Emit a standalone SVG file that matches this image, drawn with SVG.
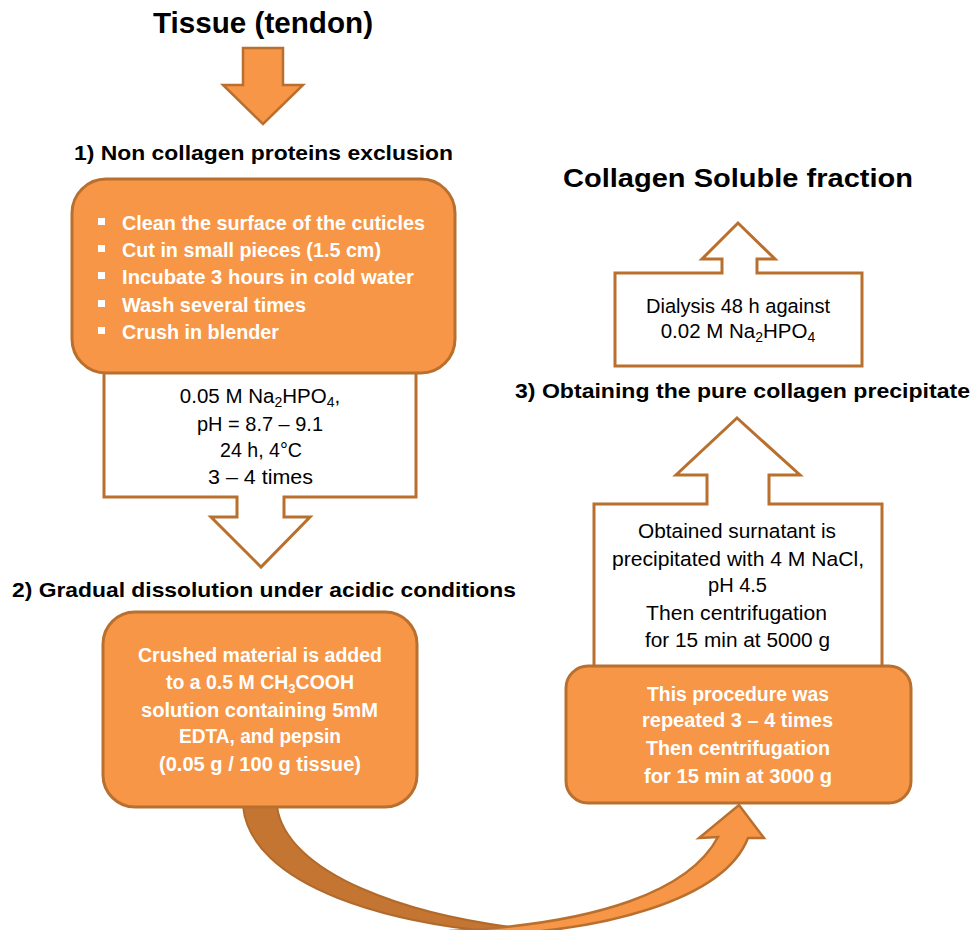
<svg xmlns="http://www.w3.org/2000/svg" width="974" height="930" viewBox="0 0 974 930">
<style>
.box{fill:#F79646;stroke:#B9702F;stroke-width:3}
.callout{fill:#FFFFFF;stroke:#B9702F;stroke-width:3;stroke-linejoin:miter}
.arrow{fill:#F79646;stroke:#B9702F;stroke-width:2.5;stroke-linejoin:miter}
.arrowdark{fill:#C57532;stroke:#B06A2C;stroke-width:2}
text{font-family:"Liberation Sans",Arial,sans-serif}
.head{font-weight:bold;fill:#000000}
.body{font-size:20.5px;fill:#000000;text-anchor:middle}
.wb{font-weight:bold;fill:#FFFFFF;font-size:19.5px}
.wb1{font-size:20.5px}
.wbc{text-anchor:middle}
.bul{fill:#FFFFFF}
</style>
<rect x="0" y="0" width="974" height="930" fill="#FFFFFF"/>

<g id="connectors">
  <polygon class="arrow" points="243,48 283,48 283,85 303,85 263,124 223,85 243,85"/>
  <path class="arrowdark" d="M243,806 C250,882 380,932 570,936 L570,933 C400,921 285,870 277,806 Z"/>
  <path class="arrow" d="M450,931 C600,924 690,890 718,837 L699,838 L739,805 L764,838 L748,838 C725,897 610,935 450,936 Z"/>
</g>

<g id="title-tissue">
  <text class="head" x="263" y="33" font-size="30" text-anchor="middle" textLength="220" lengthAdjust="spacingAndGlyphs">Tissue (tendon)</text>
</g>

<g id="step1-label">
  <text class="head" x="263.5" y="160" font-size="20.5" text-anchor="middle" textLength="379" lengthAdjust="spacingAndGlyphs">1) Non collagen proteins exclusion</text>
</g>

<g id="callout1">
  <polygon class="callout" points="104,340 416,340 416,497 284,497 284,517 310,517 261,567 211,517 237,517 237,497 104,497"/>
  <text class="body" x="260" y="403">0.05 M Na<tspan font-size="14" dy="4">2</tspan><tspan dy="-4">HPO</tspan><tspan font-size="14" dy="4">4</tspan><tspan dy="-4">,</tspan></text>
  <text class="body" x="260" y="431" textLength="126" lengthAdjust="spacingAndGlyphs">pH = 8.7 – 9.1</text>
  <text class="body" x="261" y="457" textLength="82" lengthAdjust="spacingAndGlyphs">24 h, 4°C</text>
  <text class="body" x="260.5" y="484" textLength="105" lengthAdjust="spacingAndGlyphs">3 – 4  times</text>
</g>

<g id="box1">
  <rect class="box" x="72" y="179" width="383" height="194" rx="34" ry="34"/>
  <rect class="bul" x="98" y="218" width="7" height="7"/>
  <rect class="bul" x="98" y="245" width="7" height="7"/>
  <rect class="bul" x="98" y="272" width="7" height="7"/>
  <rect class="bul" x="98" y="300" width="7" height="7"/>
  <rect class="bul" x="98" y="327" width="7" height="7"/>
  <text class="wb wb1" x="122" y="230" textLength="303" lengthAdjust="spacingAndGlyphs">Clean the surface of the cuticles</text>
  <text class="wb wb1" x="122" y="257" textLength="259" lengthAdjust="spacingAndGlyphs">Cut in small pieces (1.5 cm)</text>
  <text class="wb wb1" x="122" y="284" textLength="292" lengthAdjust="spacingAndGlyphs">Incubate 3 hours in cold water</text>
  <text class="wb wb1" x="122" y="312" textLength="184" lengthAdjust="spacingAndGlyphs">Wash several times</text>
  <text class="wb wb1" x="122" y="339" textLength="157" lengthAdjust="spacingAndGlyphs">Crush in blender</text>
</g>

<g id="step2-label">
  <text class="head" x="264" y="597" font-size="20.5" text-anchor="middle" textLength="504" lengthAdjust="spacingAndGlyphs">2) Gradual dissolution under acidic conditions</text>
</g>

<g id="box2">
  <rect class="box" x="103" y="612" width="314" height="195" rx="32" ry="32"/>
  <text class="wb wbc" x="260" y="662" textLength="244" lengthAdjust="spacingAndGlyphs">Crushed material is added</text>
  <text class="wb wbc" x="260" y="689">to a 0.5 M CH<tspan font-size="13" dy="4">3</tspan><tspan dy="-4">COOH</tspan></text>
  <text class="wb wbc" x="259.5" y="717" textLength="237" lengthAdjust="spacingAndGlyphs">solution containing 5mM</text>
  <text class="wb wbc" x="260" y="743" textLength="162" lengthAdjust="spacingAndGlyphs">EDTA, and pepsin</text>
  <text class="wb wbc" x="260" y="771" textLength="202" lengthAdjust="spacingAndGlyphs">(0.05 g / 100 g tissue)</text>
</g>

<g id="callout2">
  <polygon class="callout" points="594,700 594,504 707,504 707,475 676,475 737,418 800,475 769,475 769,504 882,504 882,700"/>
  <text class="body" x="737" y="538" textLength="198" lengthAdjust="spacingAndGlyphs">Obtained surnatant is</text>
  <text class="body" x="738" y="566" textLength="252" lengthAdjust="spacingAndGlyphs">precipitated with 4 M NaCl,</text>
  <text class="body" x="737.5" y="592" textLength="59" lengthAdjust="spacingAndGlyphs">pH 4.5</text>
  <text class="body" x="736.5" y="620" textLength="181" lengthAdjust="spacingAndGlyphs">Then centrifugation</text>
  <text class="body" x="737.5" y="647" textLength="185" lengthAdjust="spacingAndGlyphs">for 15 min at 5000 g</text>
</g>

<g id="box3">
  <rect class="box" x="566" y="666" width="345" height="137" rx="22" ry="22"/>
  <text class="wb wbc" x="738" y="701" textLength="182" lengthAdjust="spacingAndGlyphs">This procedure was</text>
  <text class="wb wbc" x="737.5" y="727" textLength="191" lengthAdjust="spacingAndGlyphs">repeated 3 – 4 times</text>
  <text class="wb wbc" x="738" y="755" textLength="184" lengthAdjust="spacingAndGlyphs">Then centrifugation</text>
  <text class="wb wbc" x="738" y="783" textLength="188" lengthAdjust="spacingAndGlyphs">for 15 min at 3000 g</text>
</g>

<g id="step3-label">
  <text class="head" x="742.5" y="398" font-size="20.5" text-anchor="middle" textLength="455" lengthAdjust="spacingAndGlyphs">3) Obtaining the pure collagen precipitate</text>
</g>

<g id="callout3">
  <polygon class="callout" points="615,366 615,273 722,273 722,259 702,259 738,223 775,259 757,259 757,273 862,273 862,366"/>
  <text class="body" x="738" y="313" textLength="184" lengthAdjust="spacingAndGlyphs">Dialysis 48 h against</text>
  <text class="body" x="738" y="338">0.02 M Na<tspan font-size="14" dy="4">2</tspan><tspan dy="-4">HPO</tspan><tspan font-size="14" dy="4">4</tspan></text>
</g>

<g id="title-collagen">
  <text class="head" x="738" y="187" font-size="26" text-anchor="middle" textLength="350" lengthAdjust="spacingAndGlyphs">Collagen Soluble fraction</text>
</g>
</svg>
